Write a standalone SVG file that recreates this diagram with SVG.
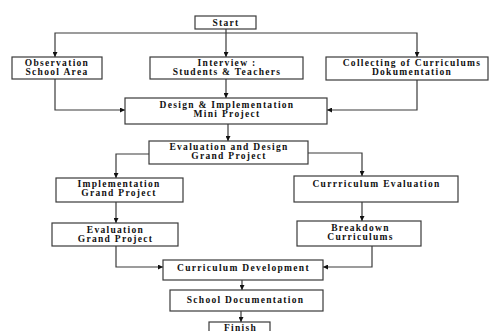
<svg xmlns="http://www.w3.org/2000/svg" width="490" height="331" viewBox="0 0 490 331">
<style>
.box{fill:#fff;stroke:#3a3a3a;stroke-width:1.2}
.t{font-family:"Liberation Serif","Times New Roman",serif;font-weight:bold;font-size:9.5px;letter-spacing:1.3px;text-anchor:middle;fill:#111}
.c{fill:none;stroke:#3a3a3a;stroke-width:1.2}
</style>
<defs>
<marker id="ah" viewBox="0 0 8 8" refX="8" refY="4" markerWidth="5" markerHeight="5" orient="auto" markerUnits="userSpaceOnUse">
<path d="M0,0 L8,4 L0,8 Z" fill="#111"/>
</marker>
</defs>
<rect width="490" height="331" fill="#fff"/>
<g id="connectors">
<path class="c" d="M226,29 V57" marker-end="url(#ah)"/>
<path class="c" d="M226,33 H55 V57" marker-end="url(#ah)"/>
<path class="c" d="M226,33 H417 V57" marker-end="url(#ah)"/>
<path class="c" d="M55,79 V110 H125" marker-end="url(#ah)"/>
<path class="c" d="M226,79 V98" marker-end="url(#ah)"/>
<path class="c" d="M417,80 V110 H327" marker-end="url(#ah)"/>
<path class="c" d="M228,124 V141" marker-end="url(#ah)"/>
<path class="c" d="M149,154 H116 V178" marker-end="url(#ah)"/>
<path class="c" d="M308,153 H362 V176" marker-end="url(#ah)"/>
<path class="c" d="M116,202 V223" marker-end="url(#ah)"/>
<path class="c" d="M362,202 V221" marker-end="url(#ah)"/>
<path class="c" d="M116,246 V267 H163" marker-end="url(#ah)"/>
<path class="c" d="M372,246 V267 H323" marker-end="url(#ah)"/>
<path class="c" d="M242,280 V290" marker-end="url(#ah)"/>
<path class="c" d="M241,311 V322" marker-end="url(#ah)"/>
</g>
<g id="start"><rect class="box" x="195" y="16" width="61" height="13"/><text class="t" x="226" y="25.5">Start</text></g>
<g id="observation"><rect class="box" x="12" y="57" width="90" height="22"/><text class="t" x="57" y="65.5">Observation</text><text class="t" x="57" y="74.5">School Area</text></g>
<g id="interview"><rect class="box" x="150" y="57" width="153" height="22"/><text class="t" x="227" y="65.5">Interview  :</text><text class="t" x="227" y="74.5">Students &amp; Teachers</text></g>
<g id="collecting"><rect class="box" x="326" y="57" width="162" height="23"/><text class="t" x="412" y="65.5">Collecting of Curriculums</text><text class="t" x="412" y="74.5">Dokumentation</text></g>
<g id="design"><rect class="box" x="125" y="98" width="202" height="26"/><text class="t" x="227" y="107.5">Design &amp; Implementation</text><text class="t" x="227" y="116.5">Mini Project</text></g>
<g id="evaldesign"><rect class="box" x="149" y="141" width="159" height="23"/><text class="t" x="229" y="149.5">Evaluation and Design</text><text class="t" x="229" y="158.5">Grand Project</text></g>
<g id="implementation"><rect class="box" x="56" y="178" width="127" height="24"/><text class="t" x="119" y="186.5">Implementation</text><text class="t" x="119" y="195.5">Grand Project</text></g>
<g id="curreval"><rect class="box" x="294" y="176" width="164" height="26"/><text class="t" x="376.5" y="186.5">Currriculum Evaluation</text></g>
<g id="evalgp"><rect class="box" x="52" y="223" width="126" height="23"/><text class="t" x="115.5" y="232.5">Evaluation</text><text class="t" x="115.5" y="241.5">Grand Project</text></g>
<g id="breakdown"><rect class="box" x="297" y="221" width="124" height="25"/><text class="t" x="360.5" y="231">Breakdown</text><text class="t" x="360.5" y="240">Curriculums</text></g>
<g id="currdev"><rect class="box" x="163" y="260" width="160" height="20"/><text class="t" x="243.5" y="270.5">Curriculum Development</text></g>
<g id="schooldoc"><rect class="box" x="170" y="290" width="153" height="21"/><text class="t" x="245.5" y="302.5">School Documentation</text></g>
<g id="finish"><rect class="box" x="209" y="322" width="61" height="14"/><text class="t" x="240.5" y="330.5">Finish</text></g>
</svg>
